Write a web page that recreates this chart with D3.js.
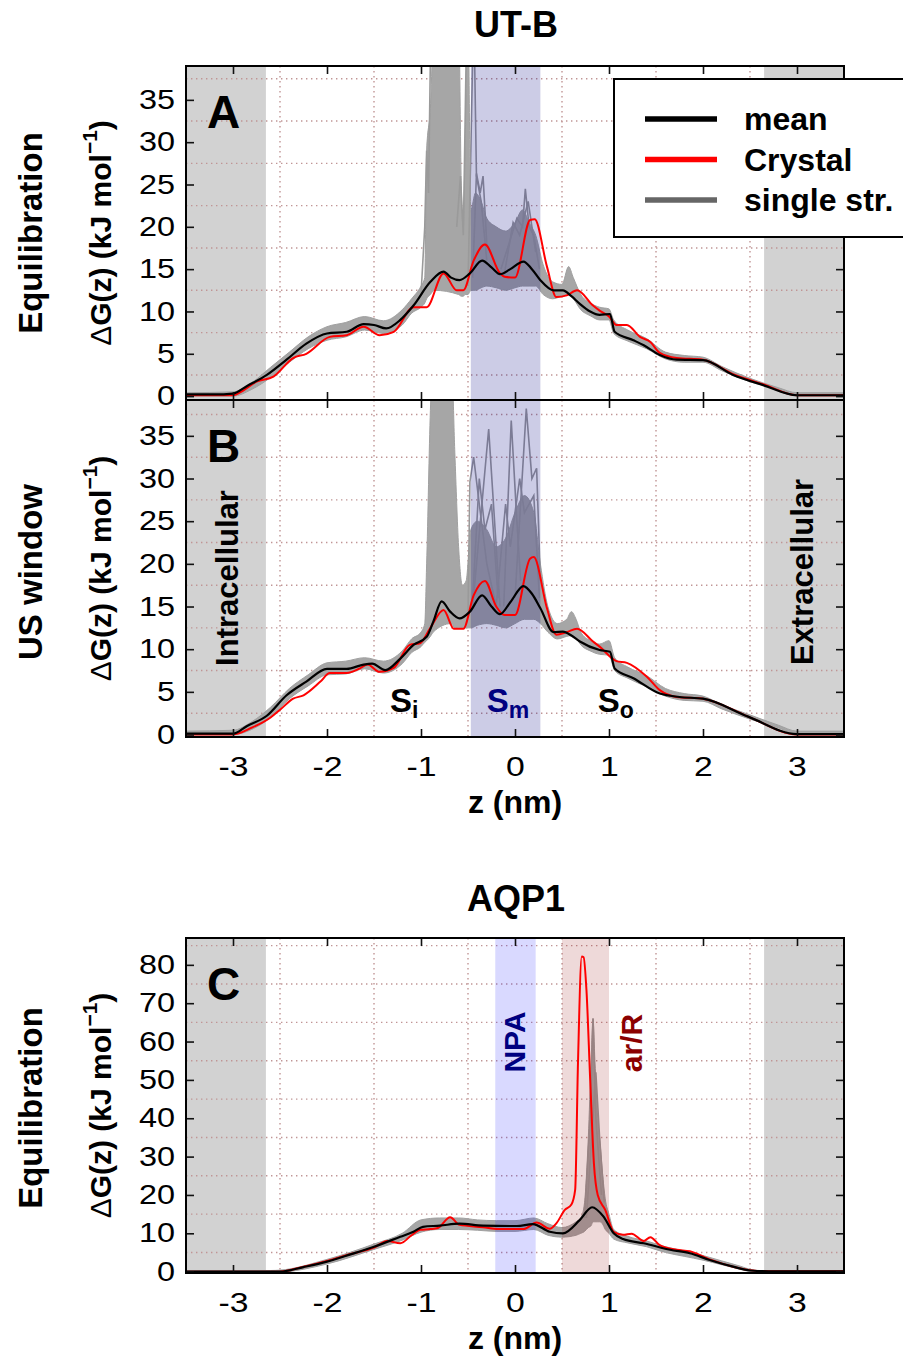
<!DOCTYPE html>
<html lang="en">
<head>
<meta charset="UTF-8" />
<title>UT-B / AQP1 free energy profiles</title>
<script src="https://d3js.org/d3.v7.min.js"></script>
<style>
  body { margin: 0; background: #fff; }
  svg { display: block; font-family: "Liberation Sans", Arial, Helvetica, sans-serif; }
</style>
</head>
<body>
<svg id="chart" width="903" height="1362"></svg>
<script>
// ---- data: [z (nm), dG (kJ/mol)] ----
const xTicks = [-3, -2, -1, 0, 1, 2, 3];
const yTicksUTB = [0, 5, 10, 15, 20, 25, 30, 35];
const yTicksAQP = [0, 10, 20, 30, 40, 50, 60, 70, 80];
const legendLabels = ["mean", "Crystal", "single str."];

const membraneEdge = 2.65;       // grey shading outside |z| > edge
const bandSm = [-0.47, 0.27];
const bandNPA = [-0.21, 0.22];
const bandArR = [0.5, 1.0];

const A_mean = [[-3.5,0.2],[-3.2,0.2],[-3.0,0.3],[-2.85,1.2],[-2.64,2.5],[-2.43,4.3],[-2.22,6.2],[-2.0,7.4],[-1.79,7.6],[-1.61,8.5],[-1.5,8.4],[-1.37,8.0],[-1.22,9.0],[-1.08,10.7],[-0.9,13.5],[-0.76,14.7],[-0.68,14.0],[-0.59,13.7],[-0.48,14.5],[-0.35,16.0],[-0.25,15.2],[-0.16,14.4],[-0.05,15.0],[0.09,15.9],[0.18,15.0],[0.27,13.7],[0.41,12.5],[0.51,12.5],[0.6,11.8],[0.69,10.9],[0.8,10.0],[0.9,9.6],[1.01,9.7],[1.06,7.6],[1.26,6.6],[1.37,6.0],[1.54,4.85],[1.72,4.3],[2.0,4.25],[2.32,2.5],[2.64,1.3],[3.0,0.1],[3.5,0.1]];
const A_crystal = [[-3.5,0.1],[-3.0,0.1],[-2.9,0.6],[-2.75,1.7],[-2.57,2.3],[-2.36,4.5],[-2.22,5.0],[-1.97,7.0],[-1.79,7.2],[-1.61,8.2],[-1.44,7.2],[-1.29,7.6],[-1.08,10.5],[-0.94,10.5],[-0.76,14.5],[-0.62,12.5],[-0.55,12.5],[-0.44,16.0],[-0.32,17.9],[-0.16,14.5],[-0.11,14.1],[0.0,14.0],[0.16,20.8],[0.21,20.9],[0.34,15.3],[0.44,11.7],[0.55,11.9],[0.66,12.5],[0.83,10.7],[0.9,10.1],[1.0,9.4],[1.08,8.4],[1.19,8.4],[1.33,7.0],[1.44,6.4],[1.54,5.1],[1.72,4.5],[2.0,4.3],[2.32,2.6],[2.64,1.4],[3.0,0.1],[3.5,0.1]];
// single structures: [z, lower, upper] envelope
const A_env = [[-3.5,0,0.4],[-3.0,0,0.5],[-2.8,0.8,1.6],[-2.6,2.2,3.4],[-2.4,4.0,5.2],[-2.2,5.6,7.0],[-2.0,6.6,8.2],[-1.8,7.0,8.7],[-1.6,7.8,9.4],[-1.4,7.4,8.9],[-1.2,8.4,10.2],[-1.1,9.8,11.5],[-1.0,10.5,13.0],[-0.96,11.0,14.0],[-0.94,11.5,29],[-0.9,12.0,34],[-0.86,12.5,45],[-0.6,12.0,45],[-0.57,11.8,24],[-0.55,11.8,20],[-0.53,12.0,30],[-0.5,12.0,45],[-0.47,12.5,22],[-0.42,12.5,24],[-0.36,12.8,23],[-0.3,13.0,21],[-0.2,12.8,20],[-0.1,12.5,19.5],[0.0,12.8,20.5],[0.08,13.0,22],[0.15,13.0,20.5],[0.22,13.0,19],[0.3,12.0,15.5],[0.4,11.5,13.5],[0.5,11.8,13.2],[0.57,12.0,15.3],[0.62,11.5,14],[0.7,10.2,12.0],[0.8,9.5,11.0],[0.9,9.0,10.5],[1.0,9.0,10.3],[1.05,7.4,9.0],[1.2,6.5,7.8],[1.4,5.6,6.8],[1.6,4.4,5.2],[1.8,4.0,4.8],[2.0,4.0,4.6],[2.2,3.0,3.5],[2.5,1.7,2.1],[2.8,0.8,1.0],[3.0,0,0.4],[3.5,0,0.4]];
const A_spikes = [
  [[-1.0,12],[-0.96,20],[-0.94,29],[-0.92,24],[-0.9,40]],
  [[-0.62,20],[-0.58,26],[-0.55,19],[-0.52,40]],
  [[-0.5,13],[-0.45,40],[-0.43,40],[-0.41,26],[-0.36,23],[-0.3,16]],
  [[-0.45,14],[-0.41,26.3],[-0.37,24],[-0.34,26],[-0.3,18],[-0.22,16]],
  [[-0.15,15],[-0.05,18.5],[0.02,21],[0.08,20],[0.11,24.5],[0.15,20],[0.2,19],[0.26,15]],
  [[-0.12,14],[-0.02,20.5],[0.05,19],[0.14,23],[0.22,17]]
];

const B_mean = [[-3.5,0.1],[-3.0,0.1],[-2.85,1.0],[-2.64,2.2],[-2.43,4.6],[-2.22,6.2],[-2.0,7.7],[-1.79,7.7],[-1.61,8.2],[-1.52,8.3],[-1.38,7.55],[-1.22,8.9],[-1.08,10.5],[-0.94,11.45],[-0.87,13.2],[-0.78,15.6],[-0.69,14.4],[-0.59,13.6],[-0.48,14.4],[-0.35,16.3],[-0.25,15.0],[-0.16,14.1],[-0.05,15.5],[0.09,17.4],[0.18,16.5],[0.27,14.8],[0.41,12.0],[0.51,12.05],[0.6,11.6],[0.69,10.9],[0.9,9.9],[1.01,9.7],[1.06,7.75],[1.26,6.6],[1.54,4.8],[1.75,4.4],[2.0,4.2],[2.48,2.1],[3.0,0.05],[3.5,0.05]];
const B_crystal = [[-3.5,0.0],[-3.0,0.0],[-2.8,0.8],[-2.6,2.0],[-2.5,2.9],[-2.36,4.2],[-2.25,4.6],[-2.07,6.2],[-1.97,7.2],[-1.79,7.2],[-1.65,7.75],[-1.57,8.2],[-1.44,7.35],[-1.29,7.8],[-1.12,10.5],[-1.01,10.7],[-0.9,12.5],[-0.76,14.6],[-0.65,12.4],[-0.55,12.4],[-0.44,16.3],[-0.32,18.0],[-0.2,15.0],[-0.11,14.0],[0.0,14.0],[0.16,20.6],[0.2,20.8],[0.34,14.8],[0.44,11.7],[0.55,12.0],[0.66,12.4],[0.83,10.9],[0.9,10.3],[1.08,8.6],[1.19,8.4],[1.4,6.8],[1.54,5.2],[1.72,4.4],[2.0,4.2],[2.48,2.1],[3.0,0.0],[3.5,0.0]];
const B_env = [[-3.5,0,0.4],[-3.0,0,0.5],[-2.8,0.6,1.5],[-2.6,2.0,3.2],[-2.4,4.2,5.4],[-2.2,5.7,7.0],[-2.0,7.0,8.4],[-1.8,7.1,8.6],[-1.6,7.7,9.0],[-1.4,7.2,8.6],[-1.2,8.3,9.8],[-1.1,9.6,11.2],[-1.0,10.3,12.0],[-0.96,10.8,13],[-0.94,11.0,20],[-0.9,11.5,38],[-0.87,12,45],[-0.68,13,45],[-0.64,12.5,33],[-0.6,12.5,22],[-0.56,12.5,17.5],[-0.52,12.5,18],[-0.47,12.5,24],[-0.4,12.8,25],[-0.3,13,24],[-0.2,12.8,22],[-0.1,12.5,23],[0.0,13,26],[0.1,13.5,28],[0.2,13.5,26],[0.27,13,20],[0.35,12,15],[0.45,11.2,13],[0.55,11.5,13.5],[0.6,11.6,14.4],[0.65,11.3,13.5],[0.7,10.5,12],[0.8,9.8,11],[0.9,9.4,10.6],[1.0,9.3,11.0],[1.06,7.5,9.0],[1.2,6.6,7.9],[1.4,5.6,6.9],[1.6,4.5,5.4],[1.8,4.0,4.8],[2.0,3.9,4.5],[2.2,3.0,3.5],[2.5,1.8,2.3],[2.8,0.8,1.1],[3.0,0,0.4],[3.5,0,0.4]];
const B_spikes = [
  [[-0.5,14],[-0.48,29.6],[-0.44,32.5],[-0.38,27],[-0.3,20],[-0.2,15]],
  [[-0.45,15],[-0.28,35.8],[-0.2,22],[-0.16,15]],
  [[-0.12,15],[-0.04,36.8],[0.02,25],[0.06,18]],
  [[0.0,16],[0.12,38.2],[0.18,30],[0.23,31.2],[0.27,18]],
  [[-0.2,15],[-0.1,27],[-0.05,22],[0.05,30],[0.1,26],[0.2,28],[0.26,16]],
  [[-0.45,16],[-0.38,30],[-0.32,24],[-0.25,27],[-0.18,16]]
];

const C_mean = [[-3.5,0.0],[-2.5,0.0],[-2.25,1.2],[-2.0,2.6],[-1.75,4.5],[-1.5,6.5],[-1.22,9.1],[-1.08,10.4],[-0.98,11.7],[-0.8,12.0],[-0.59,12.5],[-0.34,12.0],[0.02,11.9],[0.19,12.4],[0.37,10.4],[0.51,10.0],[0.69,13.5],[0.82,16.8],[0.94,14.4],[1.05,10.0],[1.15,8.5],[1.37,7.4],[1.65,5.7],[1.86,4.8],[2.07,3.05],[2.32,1.3],[2.5,0.3],[2.7,0.1],[3.5,0.1]];
const C_crystal = [[-3.5,0.0],[-2.5,0.0],[-2.25,1.3],[-2.0,2.8],[-1.75,4.6],[-1.5,6.3],[-1.36,8.0],[-1.22,7.4],[-1.1,9.5],[-1.01,10.9],[-0.9,11.1],[-0.82,11.4],[-0.69,14.2],[-0.59,12.2],[-0.34,11.6],[-0.18,11.1],[0.09,11.1],[0.23,12.8],[0.37,11.2],[0.44,12.6],[0.53,16.1],[0.6,17.5],[0.64,21.3],[0.67,54.4],[0.71,82.2],[0.73,82.0],[0.76,73.5],[0.8,50],[0.84,28],[0.88,20],[0.96,16.1],[1.05,10.4],[1.15,9.6],[1.24,9.9],[1.37,8.0],[1.44,9.0],[1.54,6.9],[1.72,5.7],[1.86,5.3],[2.07,3.2],[2.32,1.3],[2.5,0.4],[2.7,0.1],[3.5,0.1]];
const C_env = [[-3.5,-0.3,0.3],[-2.6,-0.3,0.3],[-2.5,-0.2,0.4],[-2.0,2.0,3.2],[-1.5,5.8,7.2],[-1.2,8.2,10.0],[-1.0,10.3,13.5],[-0.8,11.0,14.0],[-0.6,11.0,14.0],[-0.4,10.8,13.5],[-0.2,10.5,13.3],[0.0,10.5,13.3],[0.2,11.0,14.0],[0.35,9.5,12.5],[0.5,9.0,11.5],[0.65,9.5,13],[0.7,10,14],[0.74,10.5,18],[0.76,11,25],[0.78,11.5,35],[0.81,12,55],[0.83,13,66],[0.85,13,55],[0.88,13,40],[0.9,13,35],[0.93,12.5,26],[0.96,11,19],[1.0,10,15],[1.05,8.5,11],[1.2,7.5,9.2],[1.4,6.5,8],[1.6,5,6.5],[1.8,4,5.4],[2.0,3,4.2],[2.2,1.8,2.8],[2.4,0.6,1.4],[2.5,0.0,0.6],[2.6,-0.3,0.3],[3.5,-0.3,0.3]];
const C_spikes = [
  [[0.74,14],[0.8,40],[0.83,66],[0.86,40],[0.92,20]],
  [[0.76,14],[0.86,52],[0.9,35],[0.95,18]]
];

// ---- layout ----
const svg = d3.select("#chart");
const x = d3.scaleLinear().domain([-3.5, 3.5]).range([186, 844]);

const panels = [
  { label: "A", top: 66, bottom: 400, yDomain: [-0.46, 39], yTicks: yTicksUTB, grid: d3.range(2.5, 39, 5),
    mean: A_mean, crystal: A_crystal, env: A_env, spikes: A_spikes, showX: false,
    bands: [{ r: bandSm, fill: "#000080", op: 0.2 }] },
  { label: "B", top: 400, bottom: 737, yDomain: [-0.29, 39.2], yTicks: yTicksUTB, grid: d3.range(2.5, 39, 5),
    mean: B_mean, crystal: B_crystal, env: B_env, spikes: B_spikes, showX: true,
    bands: [{ r: bandSm, fill: "#000080", op: 0.2 }] },
  { label: "C", top: 938, bottom: 1273, yDomain: [-0.35, 87], yTicks: yTicksAQP, grid: d3.range(5, 87, 10),
    mean: C_mean, crystal: C_crystal, env: C_env, spikes: C_spikes, showX: true,
    bands: [{ r: bandNPA, fill: "#0000ff", op: 0.15 }, { r: bandArR, fill: "#8b0000", op: 0.15 }] }
];

const xGrid = [-2.5, -1.5, -0.5, 0.5, 1.5, 2.5];

panels.forEach(function (p, i) {
  const y = d3.scaleLinear().domain(p.yDomain).range([p.bottom, p.top]);
  const g = svg.append("g");
  const clipId = "clip" + i;
  svg.append("clipPath").attr("id", clipId).append("rect")
    .attr("x", x.range()[0]).attr("y", p.top)
    .attr("width", x.range()[1] - x.range()[0]).attr("height", p.bottom - p.top);

  const plot = g.append("g").attr("clip-path", `url(#${clipId})`);

  // membrane-outside shading
  [[-3.5, -membraneEdge], [membraneEdge, 3.5]].forEach(function (r) {
    plot.append("rect").attr("x", x(r[0])).attr("y", p.top)
      .attr("width", x(r[1]) - x(r[0])).attr("height", p.bottom - p.top)
      .attr("fill", "#d2d2d2");
  });

  // dotted grid
  plot.selectAll(".gx").data(xGrid).enter().append("line")
    .attr("x1", d => x(d)).attr("x2", d => x(d)).attr("y1", p.top).attr("y2", p.bottom)
    .attr("stroke", "#c09595").attr("stroke-width", 1.4).attr("stroke-dasharray", "1.4,3.6");
  plot.selectAll(".gy").data(p.grid).enter().append("line")
    .attr("x1", x.range()[0]).attr("x2", x.range()[1]).attr("y1", d => y(d)).attr("y2", d => y(d))
    .attr("stroke", "#c09595").attr("stroke-width", 1.4).attr("stroke-dasharray", "1.4,3.6");

  // single structures
  const area = d3.area().x(d => x(d[0])).y0(d => y(d[1])).y1(d => y(d[2])).curve(d3.curveMonotoneX);
  plot.append("path").datum(p.env).attr("d", area)
    .attr("fill", "#a6a6a6").attr("stroke", "#a0a0a0").attr("stroke-width", 1);
  const lineLin = d3.line().x(d => x(d[0])).y(d => y(d[1]));
  plot.selectAll(".spike").data(p.spikes).enter().append("path")
    .attr("d", lineLin).attr("fill", "none").attr("stroke", "#9a9a9a").attr("stroke-width", 1.6);

  // highlighted regions (drawn over the grey bundle, translucent)
  p.bands.forEach(function (b) {
    plot.append("rect").attr("x", x(b.r[0])).attr("y", p.top)
      .attr("width", x(b.r[1]) - x(b.r[0])).attr("height", p.bottom - p.top)
      .attr("fill", b.fill).attr("fill-opacity", b.op);
  });

  const line = d3.line().x(d => x(d[0])).y(d => y(d[1])).curve(d3.curveMonotoneX);
  plot.append("path").datum(p.crystal).attr("d", line)
    .attr("fill", "none").attr("stroke", "#ff0000").attr("stroke-width", 2);
  plot.append("path").datum(p.mean).attr("d", line)
    .attr("fill", "none").attr("stroke", "#000").attr("stroke-width", 2.2);

  // axes with inward ticks
  const fmt = d => String(d);
  const axB = g.append("g").attr("transform", `translate(0,${p.bottom})`)
    .call(d3.axisBottom(x).tickValues(xTicks).tickSizeInner(-8).tickSizeOuter(0).tickPadding(20)
      .tickFormat(p.showX ? fmt : ""));
  g.append("g").attr("transform", `translate(0,${p.top})`)
    .call(d3.axisTop(x).tickValues(xTicks).tickSizeInner(-8).tickSizeOuter(0).tickFormat(""));
  const axL = g.append("g").attr("transform", `translate(${x.range()[0]},0)`)
    .call(d3.axisLeft(y).tickValues(p.yTicks).tickSizeInner(-8).tickSizeOuter(0).tickPadding(11).tickFormat(fmt));
  g.append("g").attr("transform", `translate(${x.range()[1]},0)`)
    .call(d3.axisRight(y).tickValues(p.yTicks).tickSizeInner(-8).tickSizeOuter(0).tickFormat(""));
  g.selectAll(".domain").remove();
  g.selectAll(".tick line").attr("stroke", "#111").attr("stroke-width", 1.6);
  g.selectAll(".tick text").attr("font-family", null).attr("font-size", 27).attr("fill", "#000");
  axB.selectAll(".tick text").attr("transform", "scale(1.25,1)");
  axL.selectAll(".tick text").attr("x", -11 / 1.2).attr("transform", "scale(1.2,1)");

  // frame
  g.append("rect").attr("x", x.range()[0]).attr("y", p.top)
    .attr("width", x.range()[1] - x.range()[0]).attr("height", p.bottom - p.top)
    .attr("fill", "none").attr("stroke", "#000").attr("stroke-width", 2);

  // panel letter
  g.append("text").attr("x", 207).attr("y", p.top + 62).attr("font-size", 46)
    .attr("font-weight", "bold").text(p.label);

  // y label
  const yl = g.append("text")
    .attr("transform", `translate(111,${(p.top + p.bottom) / 2}) rotate(-90)`)
    .attr("text-anchor", "middle").attr("font-size", 30).attr("font-weight", "bold");
  yl.append("tspan").attr("font-weight", "normal").text("\u0394");
  yl.append("tspan").text("G(z) (kJ mol");
  yl.append("tspan").attr("font-size", 21).attr("dy", -14).text("\u22121");
  yl.append("tspan").attr("dy", 14).text(")");

  if (p.showX) {
    g.append("text").attr("x", 515).attr("y", p.bottom + 76).attr("text-anchor", "middle")
      .attr("font-size", 32).attr("font-weight", "bold").text("z (nm)");
  }
});

// row labels
function rotated(txt, cx, cy, size, color) {
  return svg.append("text").attr("transform", `translate(${cx},${cy}) rotate(-90)`)
    .attr("text-anchor", "middle").attr("font-size", size).attr("font-weight", "bold")
    .attr("fill", color || "#000").text(txt);
}
rotated("Equilibration", 42, 233, 33);
rotated("US window", 42, 572, 33);
rotated("Equilibration", 42, 1108, 33);
rotated("Intracellular", 238, 578, 31);
rotated("Extracellular", 813, 572, 31);
rotated("NPA", 525, 1042, 30, "#000080");
rotated("ar/R", 642, 1043, 30, "#8b0000");

// titles
svg.append("text").attr("x", 516).attr("y", 37).attr("text-anchor", "middle")
  .attr("font-size", 36).attr("font-weight", "bold").text("UT-B");
svg.append("text").attr("x", 516).attr("y", 911).attr("text-anchor", "middle")
  .attr("font-size", 36).attr("font-weight", "bold").text("AQP1");

// binding site labels
const sites = [{ s: "i", z: -1.33, c: "#000" }, { s: "m", z: -0.3, c: "#000080" }, { s: "o", z: 0.88, c: "#000" }];
sites.forEach(function (d) {
  const t = svg.append("text").attr("x", x(d.z)).attr("y", 712).attr("font-size", 33)
    .attr("font-weight", "bold").attr("fill", d.c);
  t.append("tspan").text("S");
  t.append("tspan").attr("font-size", 23).attr("dy", 6).text(d.s);
});

// legend
const lg = svg.append("g");
lg.append("rect").attr("x", 614).attr("y", 79).attr("width", 300).attr("height", 158)
  .attr("fill", "#fff").attr("stroke", "#000").attr("stroke-width", 2);
const legendColors = ["#000", "#ff0000", "#666"];
legendLabels.forEach(function (l, i) {
  const yy = 119 + i * 40.5;
  lg.append("line").attr("x1", 645).attr("x2", 717).attr("y1", yy).attr("y2", yy)
    .attr("stroke", legendColors[i]).attr("stroke-width", 5.5);
  lg.append("text").attr("x", 744).attr("y", yy + 11).attr("font-size", 32)
    .attr("font-weight", "bold").text(l);
});
</script>
</body>
</html>
